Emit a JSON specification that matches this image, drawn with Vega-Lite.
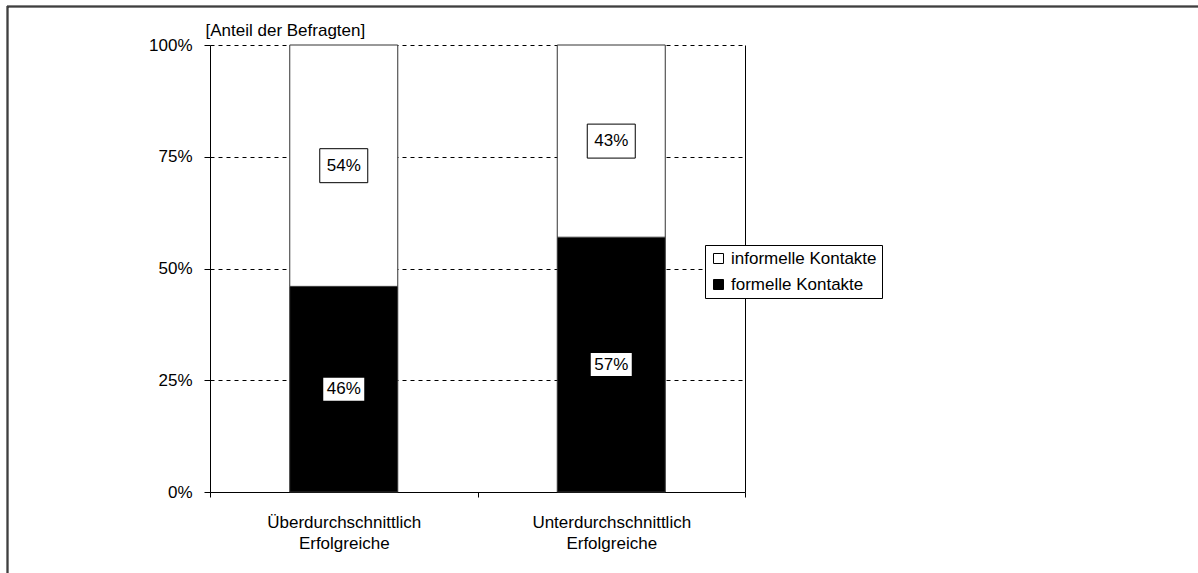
{
  "$schema": "https://vega.github.io/schema/vega-lite/v6.json",
  "width": 535,
  "height": 447,
  "autosize": {"type": "none"},
  "padding": {"left": 210, "top": 45, "right": 453, "bottom": 81},
  "background": "white",
  "config": {
    "font": "Liberation Sans",
    "view": {"stroke": null},
    "axis": {"labelFont": "Liberation Sans", "titleFont": "Liberation Sans", "labelColor": "black", "titleColor": "black"}
  },
  "data": {
    "values": [
      {"Gruppe": "Überdurchschnittlich Erfolgreiche", "Kontaktart": "formelle Kontakte", "Anteil": 0.46},
      {"Gruppe": "Überdurchschnittlich Erfolgreiche", "Kontaktart": "informelle Kontakte", "Anteil": 0.54},
      {"Gruppe": "Unterdurchschnittlich Erfolgreiche", "Kontaktart": "formelle Kontakte", "Anteil": 0.57},
      {"Gruppe": "Unterdurchschnittlich Erfolgreiche", "Kontaktart": "informelle Kontakte", "Anteil": 0.43}
    ]
  },
  "encoding": {
    "x": {
      "field": "Gruppe", "type": "nominal", "sort": null,
      "scale": {"paddingInner": 0, "paddingOuter": 0},
      "axis": {
        "title": null, "labelAngle": 0, "tickBand": "extent",
        "labelExpr": "split(datum.label, ' ')",
        "labelFontSize": 17, "labelLineHeight": 21, "labelPadding": 17,
        "domainColor": "black", "tickColor": "black", "tickSize": 5,
        "grid": false
      }
    }
  },
  "layer": [
    {
      "mark": {"type": "bar", "width": 108, "stroke": "#333333", "strokeWidth": 1},
      "encoding": {
        "y": {
          "field": "Anteil", "type": "quantitative", "stack": "zero",
          "scale": {"domain": [0, 1], "nice": false},
          "axis": {
            "orient": "left", "values": [0, 0.25, 0.5, 0.75, 1], "format": ".0%",
            "labelFontSize": 17, "labelPadding": 12, "tickSize": 6, "tickColor": "black",
            "domainColor": "black",
            "grid": true, "gridColor": "black", "gridDash": [4, 4], "gridOpacity": 1, "gridWidth": 1,
            "title": "[Anteil der Befragten]", "titleAngle": 0, "titleAlign": "left",
            "titleBaseline": "alphabetic", "titleX": -5, "titleY": -10,
            "titleFontSize": 17, "titleFontWeight": "normal"
          }
        },
        "color": {
          "field": "Kontaktart", "type": "nominal",
          "scale": {"domain": ["informelle Kontakte", "formelle Kontakte"], "range": ["white", "black"]},
          "legend": {
            "orient": "none", "legendX": 495, "legendY": 200, "title": null,
            "symbolType": "square", "symbolSize": 100, "symbolStrokeColor": "black", "symbolStrokeWidth": 1,
            "labelFontSize": 17, "labelFont": "Liberation Sans", "labelColor": "black", "labelOffset": 4,
            "labelLimit": 250,
            "strokeColor": "black", "fillColor": "white", "padding": 5, "rowPadding": 8
          }
        },
        "order": {"field": "Kontaktart", "sort": "ascending"}
      }
    },
    {
      "transform": [
        {"stack": "Anteil", "groupby": ["Gruppe"], "sort": [{"field": "Kontaktart", "order": "ascending"}], "as": ["y0", "y1"]},
        {"fold": ["y0", "y1"], "as": ["edge", "pos"]},
        {"aggregate": [{"op": "mean", "field": "pos", "as": "mid"}], "groupby": ["Gruppe", "Kontaktart", "Anteil"]}
      ],
      "layer": [
        {
          "transform": [{"filter": "datum.Kontaktart === 'informelle Kontakte'"}],
          "mark": {"type": "point", "filled": true, "fill": "white", "stroke": "black", "strokeWidth": 1, "opacity": 1, "size": 2304},
          "encoding": {
            "y": {
              "field": "mid", "type": "quantitative",
              "axis": {"orient": "right", "labels": false, "ticks": false, "grid": false, "title": null, "domainColor": "black"}
            },
            "shape": {
              "datum": "Rahmen", "type": "nominal",
              "scale": {"range": ["M-1,-0.708H1V0.708H-1Z"]},
              "legend": {
                "orient": "none", "legendX": -203.5, "legendY": -39.5, "title": null,
                "padding": 2500, "strokeColor": "black",
                "labelExpr": "''", "labelFontSize": 1, "symbolSize": 1, "symbolOpacity": 0
              }
            }
          }
        },
        {
          "transform": [{"filter": "datum.Kontaktart === 'formelle Kontakte'"}],
          "mark": {"type": "point", "filled": true, "fill": "white", "strokeWidth": 0, "opacity": 1, "shape": "M-1,-0.561H1V0.561H-1Z", "size": 1681},
          "encoding": {
            "y": {"field": "mid", "type": "quantitative"},
            "strokeDash": {
              "datum": "Rahmen2", "type": "nominal",
              "scale": {"range": [[1, 0]]},
              "legend": {
                "orient": "none", "legendX": -202.5, "legendY": -38.5, "title": null,
                "padding": 2500, "strokeColor": "black",
                "labelExpr": "''", "labelFontSize": 1, "symbolSize": 1, "symbolOpacity": 0
              }
            }
          }
        },
        {
          "mark": {"type": "text", "fontSize": 17, "color": "black", "baseline": "middle", "align": "center"},
          "encoding": {
            "y": {"field": "mid", "type": "quantitative"},
            "text": {"field": "Anteil", "type": "quantitative", "format": ".0%"}
          }
        }
      ]
    }
  ],
  "resolve": {"axis": {"y": "independent"}}
}
